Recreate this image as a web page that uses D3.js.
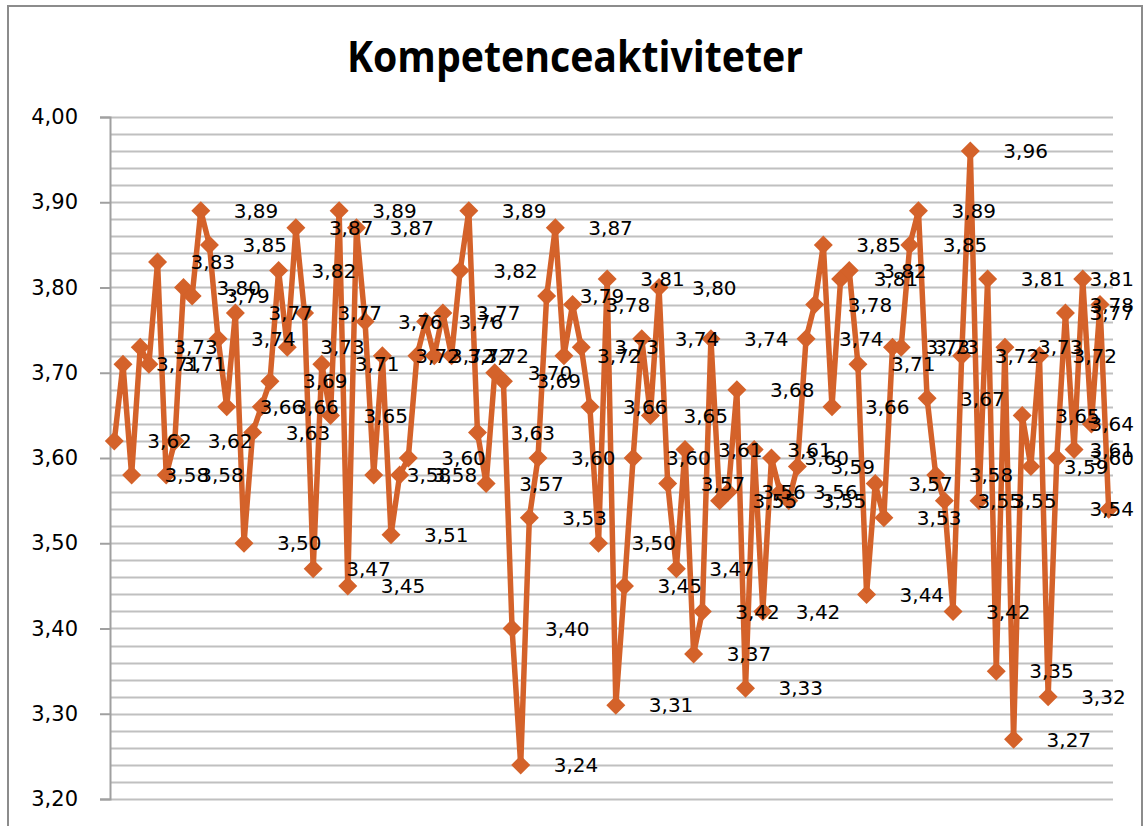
<!DOCTYPE html>
<html>
<head>
<meta charset="utf-8">
<script src="https://cdn.jsdelivr.net/npm/d3@7"></script>
<style>
  body { margin: 0; background: #fff; }
  svg { display: block; }
</style>
</head>
<body>
<div id="chart"></div>
<script>
// Kompetenceaktiviteter - line chart with diamond markers and data labels

var title = "Kompetenceaktiviteter"

// values, one per category (116 categories)
var values = [
  3.62, 3.71, 3.58, 3.73, 3.71, 3.83, 3.58, 3.62, 3.80, 3.79,
  3.89, 3.85, 3.74, 3.66, 3.77, 3.50, 3.63, 3.66, 3.69, 3.82,
  3.73, 3.87, 3.77, 3.47, 3.71, 3.65, 3.89, 3.45, 3.87, 3.76,
  3.58, 3.72, 3.51, 3.58, 3.60, 3.72, 3.76, 3.72, 3.77, 3.72,
  3.82, 3.89, 3.63, 3.57, 3.70, 3.69, 3.40, 3.24, 3.53, 3.60,
  3.79, 3.87, 3.72, 3.78, 3.73, 3.66, 3.50, 3.81, 3.31, 3.45,
  3.60, 3.74, 3.65, 3.80, 3.57, 3.47, 3.61, 3.37, 3.42, 3.74,
  3.55, 3.56, 3.68, 3.33, 3.61, 3.42, 3.60, 3.56, 3.55, 3.59,
  3.74, 3.78, 3.85, 3.66, 3.81, 3.82, 3.71, 3.44, 3.57, 3.53,
  3.73, 3.73, 3.85, 3.89, 3.67, 3.58, 3.55, 3.42, 3.72, 3.96,
  3.55, 3.81, 3.35, 3.73, 3.27, 3.65, 3.59, 3.72, 3.32, 3.60,
  3.77, 3.61, 3.81, 3.64, 3.78, 3.54
]
var categories = values.map(function(d, i) { return i + 1 })

// y axis
var yDomain = [3.20, 4.00]
var yTicks = [3.20, 3.30, 3.40, 3.50, 3.60, 3.70, 3.80, 3.90, 4.00]
var yMinorStep = 0.02

var width = 1145, height = 826
var plot = {left: 110, right: 1113, top: 117, bottom: 799}
var orange = "#d4622a"

var locale = d3.formatLocale({decimal: ",", thousands: ".", grouping: [3], currency: ["", " kr"]})
var fmt = locale.format(".2f")

var svg = d3.select("#chart")
  .append("svg")
    .attr("width", width)
    .attr("height", height)

// chart border
svg.append("rect")
  .attr("x", 8).attr("y", 6)
  .attr("width", 1134).attr("height", 840)
  .attr("fill", "#fff")
  .attr("stroke", "#8c8c8c")
  .attr("stroke-width", 2)

// title
svg.append("text")
  .attr("x", 575)
  .attr("y", 72)
  .attr("text-anchor", "middle")
  .attr("textLength", 456)
  .attr("lengthAdjust", "spacingAndGlyphs")
  .style("font-family", "'Open Sans', 'Noto Sans', sans-serif")
  .style("font-weight", "bold")
  .style("font-size", "43px")
  .text(title)

// scales
var x = d3.scaleBand()
  .domain(categories)
  .range([plot.left, plot.right])

var y = d3.scaleLinear()
  .domain(yDomain)
  .range([plot.bottom, plot.top])

// gridlines (major and minor every 0,02)
var gridVals = d3.range(Math.round((yDomain[1] - yDomain[0]) / yMinorStep) + 1)
  .map(function(i) { return yDomain[0] + i * yMinorStep })

svg.append("g")
  .selectAll("line")
  .data(gridVals)
  .enter()
  .append("line")
    .attr("x1", plot.left)
    .attr("x2", plot.right)
    .attr("y1", function(d) { return Math.round(y(d)) + 0.5 })
    .attr("y2", function(d) { return Math.round(y(d)) + 0.5 })
    .attr("stroke", "#c0c0c0")
    .attr("stroke-width", 2)

// y axis
var yAxis = svg.append("g")
  .attr("transform", "translate(" + plot.left + ",0)")
  .call(d3.axisLeft(y).tickValues(yTicks).tickFormat(fmt).tickSize(10).tickPadding(22))

yAxis.select(".domain").attr("stroke", "#a0a0a0").attr("stroke-width", 2)
yAxis.selectAll(".tick line").attr("stroke", "#a0a0a0").attr("stroke-width", 2)
yAxis.selectAll(".tick text")
  .attr("fill", "#000")
  .style("font-family", "'DejaVu Sans', sans-serif")
  .style("font-size", "21px")

// line
var line = d3.line()
  .x(function(d, i) { return x(categories[i]) + x.bandwidth() / 2 })
  .y(function(d) { return y(d) })

svg.append("path")
  .datum(values)
  .attr("d", line)
  .attr("fill", "none")
  .attr("stroke", orange)
  .attr("stroke-width", 5.5)
  .attr("stroke-linejoin", "round")

// diamond markers
svg.append("g")
  .selectAll("path")
  .data(values)
  .enter()
  .append("path")
    .attr("transform", function(d, i) {
      return "translate(" + (x(categories[i]) + x.bandwidth() / 2) + "," + y(d) + ")" })
    .attr("d", "M0,-9.5L9.5,0L0,9.5L-9.5,0Z")
    .attr("fill", orange)

// data labels, right of the point, kept inside the chart area
var labels = svg.append("g")
  .selectAll("text")
  .data(values)
  .enter()
  .append("text")
    .attr("y", function(d) { return y(d) })
    .attr("dy", "0.36em")
    .style("font-family", "'DejaVu Sans', sans-serif")
    .style("font-size", "20px")
    .attr("fill", "#000")
    .text(function(d) { return fmt(d) })

labels.attr("x", function(d, i) {
  var px = x(categories[i]) + x.bandwidth() / 2
  var w = this.getComputedTextLength()
  return Math.min(px + 33, 1134 - w)
})
</script>
</body>
</html>
